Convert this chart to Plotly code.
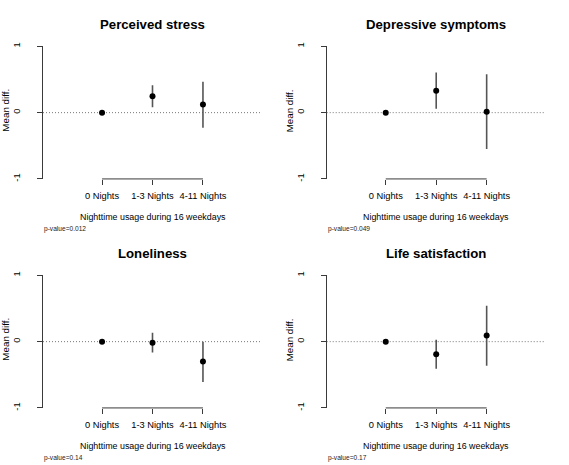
import plotly.graph_objects as go

# ---------------- data ----------------
categories = ["0 Nights", "1-3 Nights", "4-11 Nights"]
panel_titles = ["Perceived stress", "Depressive symptoms", "Loneliness", "Life satisfaction"]
p_values = ["0.012", "0.049", "0.14", "0.17"]
y_ticks = [-1, 0, 1]
x_title = "Nighttime usage during 16 weekdays"
y_title = "Mean diff."

stress_mean = [0.0, 0.247, 0.124]
stress_lo = [0.0, 0.080, -0.227]
stress_hi = [0.0, 0.415, 0.465]

depress_mean = [0.0, 0.332, 0.015]
depress_lo = [0.0, 0.059, -0.548]
depress_hi = [0.0, 0.604, 0.578]

lonely_mean = [0.0, -0.015, -0.301]
lonely_lo = [0.0, -0.163, -0.608]
lonely_hi = [0.0, 0.133, 0.000]

life_mean = [0.0, -0.189, 0.094]
life_lo = [0.0, -0.410, -0.362]
life_hi = [0.0, 0.030, 0.543]

series = [
    (stress_mean, stress_lo, stress_hi),
    (depress_mean, depress_lo, depress_hi),
    (lonely_mean, lonely_lo, lonely_hi),
    (life_mean, life_lo, life_hi),
]

# ---------------- layout geometry (pixels) ----------------
W, H = 569, 465
col_left = [43.0, 326.7]
plot_w = 219.0
row_top = [43.0, 275.5]
plot_h = 134.6
FONT = "Liberation Sans, Arial, Helvetica, sans-serif"
AX = "#3a3a3a"

def px_x(p):
    return p / W

def px_y(p):
    return 1 - p / H

fig = go.Figure()
annotations = []
shapes = []

for i, (mean, lo, hi) in enumerate(series):
    r, c = divmod(i, 2)
    left = col_left[c]
    top = row_top[r]
    bottom = top + plot_h
    n = i + 1
    xa = "x" if n == 1 else f"x{n}"
    ya = "y" if n == 1 else f"y{n}"
    xkey = "xaxis" if n == 1 else f"xaxis{n}"
    ykey = "yaxis" if n == 1 else f"yaxis{n}"

    plus = [h - m for h, m in zip(hi, mean)]
    minus = [m - l for m, l in zip(mean, lo)]

    fig.add_trace(go.Scatter(
        x=categories, y=mean, mode="markers",
        marker=dict(color="black", size=6),
        error_y=dict(type="data", array=plus, arrayminus=minus,
                     width=0, thickness=1.6, color="#555555", symmetric=False),
        xaxis=xa, yaxis=ya, showlegend=False, hoverinfo="skip",
    ))

    fig.layout[xkey] = dict(
        domain=[px_x(left), px_x(left + plot_w)],
        anchor=ya, type="category", categoryorder="array", categoryarray=categories,
        range=[-1.17, len(categories) - 1 + 1.17],
        showline=False, showgrid=False, zeroline=False,
        ticks="outside", ticklen=5, tickwidth=1, tickcolor=AX,
        tickfont=dict(family=FONT, size=9.3, color="black"),
        ticklabelstandoff=3,
        fixedrange=True,
    )
    fig.layout[ykey] = dict(
        domain=[px_y(bottom), px_y(top)],
        anchor=xa, range=[-1, 1],
        tickvals=y_ticks, ticktext=[str(v) for v in y_ticks],
        showline=True, linecolor=AX, linewidth=1,
        showgrid=False, zeroline=False,
        ticks="outside", ticklen=5, tickwidth=1, tickcolor=AX,
        tickangle=-90,
        tickfont=dict(family=FONT, size=9.3, color="black"),
        ticklabelstandoff=13,
        fixedrange=True,
    )

    # x axis line spanning first to last category (R style)
    shapes.append(dict(type="line", xref=xa, yref=f"{ya} domain",
                       x0=0, x1=len(categories) - 1, y0=0, y1=0,
                       line=dict(color=AX, width=1)))
    # dotted reference line at 0
    shapes.append(dict(type="line", xref=f"{xa} domain", yref=ya,
                       x0=0, x1=1, y0=0, y1=0,
                       line=dict(color="#777777", width=1, dash="1px,2px"),
                       layer="below"))

    cx = left + plot_w / 2
    annotations.append(dict(text=panel_titles[i], x=px_x(cx), y=px_y(top - 22.5),
                            xref="paper", yref="paper", showarrow=False,
                            xanchor="center", yanchor="middle",
                            font=dict(family=FONT, size=13.2, color="black", weight="bold")))
    annotations.append(dict(text=x_title, x=px_x(cx), y=px_y(bottom + 38.3),
                            xref="paper", yref="paper", showarrow=False,
                            xanchor="center", yanchor="middle",
                            font=dict(family=FONT, size=8.9, color="black")))
    annotations.append(dict(text=y_title, x=px_x(left - 37), y=px_y(top + plot_h / 2 - 2),
                            xref="paper", yref="paper", showarrow=False, textangle=-90,
                            xanchor="center", yanchor="middle",
                            font=dict(family=FONT, size=9.8, color="black")))
    annotations.append(dict(text=f"p-value={p_values[i]}", x=px_x(left - 1), y=px_y(bottom + 51.3),
                            xref="paper", yref="paper", showarrow=False,
                            xanchor="left", yanchor="middle",
                            font=dict(family=FONT, size=6.6, color="#222222")))

fig.update_layout(
    width=W, height=H,
    margin=dict(l=0, r=0, t=0, b=0),
    paper_bgcolor="white", plot_bgcolor="white",
    annotations=annotations, shapes=shapes,
)

fig.write_html("out.html", config={"displayModeBar": False},
               post_script="document.body.style.margin='0';document.body.style.overflow='hidden';")
